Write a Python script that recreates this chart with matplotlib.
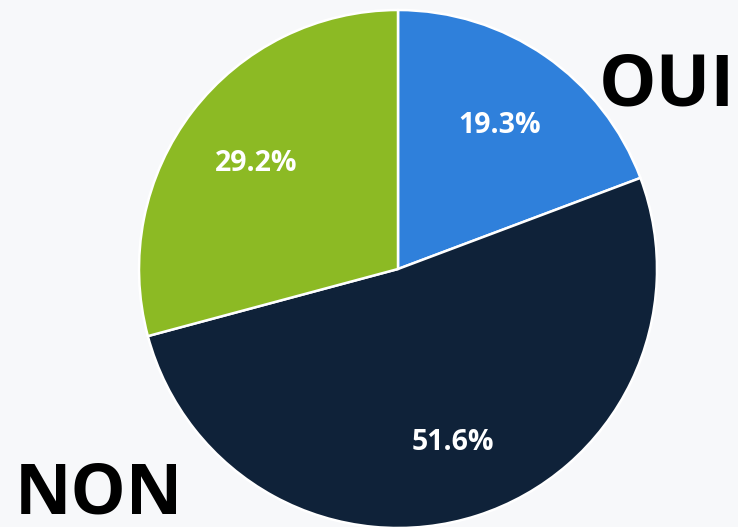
import matplotlib
matplotlib.use("Agg")
import matplotlib.pyplot as plt
import numpy as np

# Survey answers (share of respondents, %)
labels = ["OUI", "NON", ""]
shares = [19.3, 51.6, 29.2]
colors = ["#2f80db", "#0f2239", "#8cba24"]

W, H, DPI = 738, 527, 100
bg = "#f7f8fa"
cx, cy, R = 398, 258, 259

fig = plt.figure(figsize=(W / DPI, H / DPI), dpi=DPI, facecolor=bg)
ax = fig.add_axes([0, 0, 1, 1])
ax.set_facecolor(bg)

wedges, _ = ax.pie(
    shares,
    colors=colors,
    startangle=90,
    counterclock=False,
    center=(cx, cy),
    radius=R,
    wedgeprops=dict(edgecolor="white", linewidth=1.8),
    frame=True,
)
ax.set_xlim(0, W)
ax.set_ylim(0, H)
ax.set_aspect("equal")
ax.axis("off")

# value labels inside each wedge
for w, v in zip(wedges, shares):
    mid = np.deg2rad((w.theta1 + w.theta2) / 2)
    x = cx + 0.69 * R * np.cos(mid)
    y = cy + 0.69 * R * np.sin(mid)
    ax.text(x, y, f"{v:.1f}%", color="white", fontsize=20.5, fontweight="bold",
            family=["Open Sans", "DejaVu Sans"], ha="center", va="center_baseline")

big = dict(fontweight="bold", color="black",
           family=["Open Sans", "DejaVu Sans"], ha="left", va="baseline")
ax.text(599, 422, labels[0], fontsize=52, **big)
ax.text(15, 13, labels[1], fontsize=50, **big)

fig.savefig("out.png", dpi=DPI, facecolor=bg)
